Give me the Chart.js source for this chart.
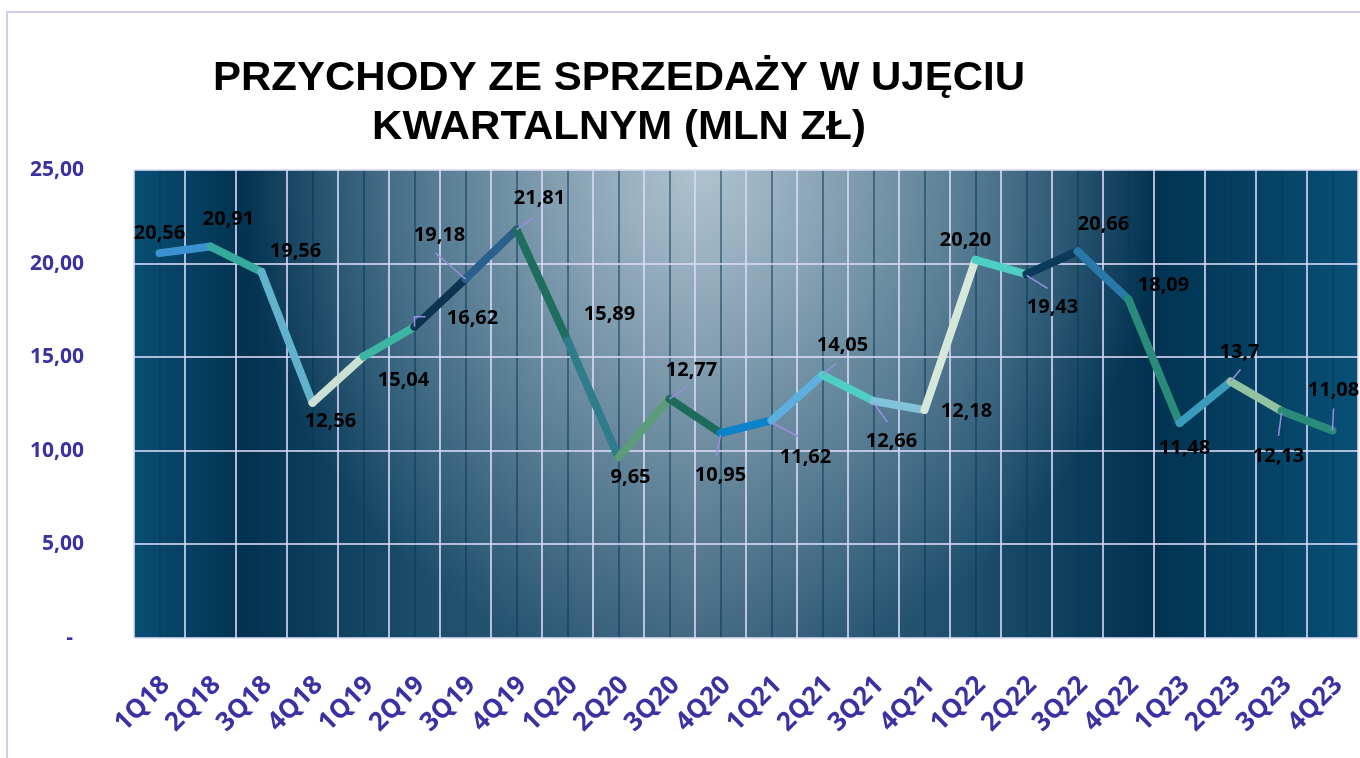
<!DOCTYPE html>
<html lang="pl">
<head>
<meta charset="utf-8">
<title>Przychody ze sprzedaży w ujęciu kwartalnym</title>
<script src="https://cdn.jsdelivr.net/npm/chart.js@4.4.1/dist/chart.umd.min.js"></script>
<style>
  html, body { margin: 0; padding: 0; background: #fff; }
  canvas { display: block; }
</style>
</head>
<body>
<canvas id="revChart" width="1360" height="758"></canvas>
<script>
const quarters = ['1Q18', '2Q18', '3Q18', '4Q18', '1Q19', '2Q19', '3Q19', '4Q19',
  '1Q20', '2Q20', '3Q20', '4Q20', '1Q21', '2Q21', '3Q21', '4Q21',
  '1Q22', '2Q22', '3Q22', '4Q22', '1Q23', '2Q23', '3Q23', '4Q23'];
const revenue = [20.56, 20.91, 19.56, 12.56, 15.04, 16.62, 19.18, 21.81,
  15.89, 9.65, 12.77, 10.95, 11.62, 14.05, 12.66, 12.18,
  20.20, 19.43, 20.66, 18.09, 11.48, 13.7, 12.13, 11.08];
const valueText = ['20,56', '20,91', '19,56', '12,56', '15,04', '16,62', '19,18', '21,81',
  '15,89', '9,65', '12,77', '10,95', '11,62', '14,05', '12,66', '12,18',
  '20,20', '19,43', '20,66', '18,09', '11,48', '13,7', '12,13', '11,08'];
const yTickLabels = ['-  ', '5,00', '10,00', '15,00', '20,00', '25,00'];
const titleLines = ['PRZYCHODY ZE SPRZEDAŻY W UJĘCIU', 'KWARTALNYM (MLN ZŁ)'];

// colour of each line piece (from point i to i+1)
const segColors = ['#3b90cf', '#35a99b', '#62b2cb', '#cbe0d3', '#3bb6a2', '#0c3450',
  '#2a608c', '#1f6d5f', '#2f7c8b', '#5c9c7a', '#1e6b5b', '#0b82c9',
  '#5db0de', '#4fcfc3', '#82c2da', '#d7e7da', '#4fcfc3', '#0b3a5b',
  '#2879aa', '#2b8b7b', '#3b9bba', '#91c2a2', '#2b8b7b'];

// where the value text sits, relative to its point
const labelOffset = [[0, -20], [18, -27], [34, -21], [18, 18], [40, 24], [58, -9],
  [-26, -44], [23, -31], [42, -26], [12, 20], [22, -29], [0, 42],
  [34, 37], [20, -30], [18, 40], [42, 1], [-10, -20], [26, 33],
  [26, -27], [35, -14], [5, 25], [9, -29], [-3, 45], [1, -40]];
// little connector lines, relative to the point
const leaders = {
  5: [[0, 0], [0, -10], [11, -10]],
  6: [[-30, -26], [0, 0]],
  7: [[0, 0], [17, -12]],
  10: [[0, 0], [17, -12]],
  11: [[0, 2], [-4, 23]],
  12: [[0, 2], [27, 16]],
  13: [[0, 0], [14, -12]],
  14: [[0, 2], [14, 21]],
  17: [[0, 1], [21, 14]],
  21: [[0, 0], [10, -12]],
  22: [[0, 2], [-3, 25]],
  23: [[1, -22], [0, 0]]
};

const axisBlue = '#3a32a3';
const gridLight = 'rgba(218,218,248,0.8)';

const backdrop = {
  id: 'backdrop',
  beforeDraw(chart) {
    const ctx = chart.ctx;
    const a = chart.chartArea;
    const w = a.right - a.left;
    ctx.save();
    ctx.fillStyle = '#fff';
    ctx.fillRect(0, 0, chart.width, chart.height);
    ctx.beginPath();
    ctx.rect(a.left, a.top, w, a.bottom - a.top);
    ctx.clip();
    // dark side bands
    const lin = ctx.createLinearGradient(a.left, 0, a.right, 0);
    lin.addColorStop(0, 'rgb(8,78,115)');
    lin.addColorStop(0.09, 'rgb(2,50,80)');
    lin.addColorStop(0.22, 'rgb(25,75,105)');
    lin.addColorStop(0.46, 'rgb(60,100,125)');
    lin.addColorStop(0.7, 'rgb(25,75,105)');
    lin.addColorStop(0.83, 'rgb(2,50,80)');
    lin.addColorStop(1, 'rgb(8,80,118)');
    ctx.fillStyle = lin;
    ctx.fillRect(a.left, a.top, w, a.bottom - a.top);
    // light glow at the top centre
    ctx.translate(700, 170);
    ctx.scale(1, 1.1);
    const g = ctx.createRadialGradient(0, 0, 0, 0, 0, 460);
    g.addColorStop(0, 'rgba(200,215,225,0.82)');
    g.addColorStop(0.5, 'rgba(200,215,225,0.4)');
    g.addColorStop(1, 'rgba(200,215,225,0)');
    ctx.fillStyle = g;
    ctx.fillRect(-800, -200, 1700, 700);
    ctx.restore();
  },
  afterDraw(chart) {
    const ctx = chart.ctx;
    ctx.save();
    // outer frame
    ctx.strokeStyle = '#d0ccef';
    ctx.lineWidth = 2;
    ctx.beginPath();
    ctx.moveTo(7, 760);
    ctx.lineTo(7, 12);
    ctx.lineTo(1362, 12);
    ctx.stroke();
    // title, a little wider than the plain font
    ctx.fillStyle = '#000';
    ctx.font = 'bold 40px "Liberation Sans", Arial, sans-serif';
    ctx.textAlign = 'center';
    ctx.textBaseline = 'alphabetic';
    ctx.translate(619, 0);
    ctx.scale(1.05, 1);
    ctx.fillText(titleLines[0], 0, 90);
    ctx.fillText(titleLines[1], 0, 139);
    ctx.restore();
  }
};

const valueLabels = {
  id: 'valueLabels',
  afterDatasetsDraw(chart) {
    const ctx = chart.ctx;
    const pts = chart.getDatasetMeta(0).data;
    ctx.save();
    ctx.strokeStyle = '#9a8de6';
    ctx.lineWidth = 1.5;
    pts.forEach((p, i) => {
      const lead = leaders[i];
      if (!lead) return;
      ctx.beginPath();
      lead.forEach(([dx, dy], k) => {
        if (k) ctx.lineTo(p.x + dx, p.y + dy);
        else ctx.moveTo(p.x + dx, p.y + dy);
      });
      ctx.stroke();
    });
    ctx.font = 'bold 20px "Open Sans", sans-serif';
    ctx.fillStyle = '#000';
    ctx.textAlign = 'center';
    ctx.textBaseline = 'middle';
    pts.forEach((p, i) => {
      const [dx, dy] = labelOffset[i];
      ctx.fillText(valueText[i], p.x + dx, p.y + dy);
    });
    ctx.restore();
  }
};

new Chart(document.getElementById('revChart'), {
  type: 'line',
  data: {
    labels: quarters,
    datasets: [{
      data: revenue,
      borderWidth: 8,
      borderCapStyle: 'round',
      borderJoinStyle: 'round',
      borderColor: segColors[0],
      pointRadius: 0,
      tension: 0,
      segment: {
        borderColor: ctx => segColors[ctx.p0DataIndex]
      }
    }]
  },
  options: {
    responsive: false,
    animation: false,
    devicePixelRatio: 1,
    layout: { padding: { top: 170, right: 2, left: 0, bottom: 0 } },
    plugins: {
      legend: { display: false },
      tooltip: { enabled: false }
    },
    scales: {
      x: {
        offset: true,
        grid: { offset: true, color: gridLight, lineWidth: 2, drawTicks: false },
        border: { display: false },
        ticks: {
          autoSkip: false,
          minRotation: 45,
          maxRotation: 45,
          padding: 32,
          labelOffset: 6,
          color: axisBlue,
          font: { family: '"Open Sans", sans-serif', size: 26, weight: 'bold' }
        },
        afterFit: s => {
          s.height = 120;
          s.paddingLeft = 0;
          s.paddingRight = 0;
        }
      },
      xc: {
        type: 'category',
        position: 'bottom',
        offset: true,
        grid: { offset: false, color: 'rgba(5,55,85,0.5)', lineWidth: 2, drawTicks: false },
        border: { display: false },
        ticks: { display: false },
        afterFit: s => {
          s.height = 0;
          s.paddingLeft = 0;
          s.paddingRight = 0;
        }
      },
      y: {
        min: 0,
        max: 25,
        grid: { color: gridLight, lineWidth: 2, drawTicks: false },
        border: { display: false },
        ticks: {
          stepSize: 5,
          padding: 50,
          color: axisBlue,
          font: { family: '"Open Sans", sans-serif', size: 21, weight: 'bold' },
          callback: (v, i) => yTickLabels[i]
        },
        afterFit: s => { s.width = 134; }
      }
    }
  },
  plugins: [backdrop, valueLabels]
});
</script>
</body>
</html>
